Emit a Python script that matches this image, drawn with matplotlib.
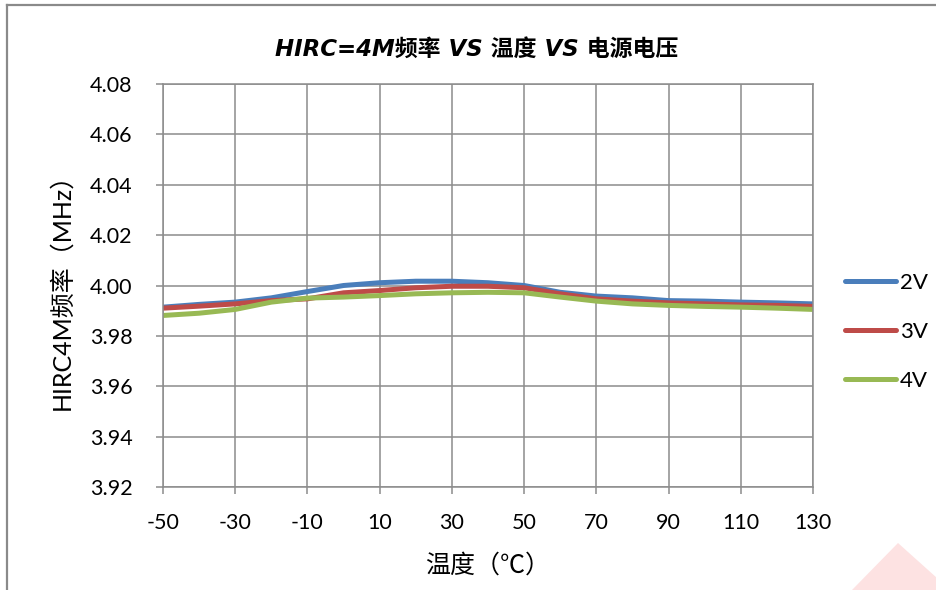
import matplotlib
matplotlib.use("Agg")
import matplotlib.pyplot as plt
from matplotlib.patches import Polygon
from matplotlib.lines import Line2D

plt.rcParams["font.family"] = ["Lato", "Noto Sans CJK SC", "DejaVu Sans"]
plt.rcParams["axes.unicode_minus"] = False

temps = [-50, -40, -30, -20, -10, 0, 10, 20, 30, 40, 50, 60, 70, 80, 90, 100, 110, 120, 130]
freq_2v = [3.9914, 3.9925, 3.9934, 3.9951, 3.9976, 4.0000, 4.0011, 4.0017, 4.0017, 4.0011,
           4.0000, 3.9973, 3.9958, 3.9951, 3.9940, 3.9938, 3.9934, 3.9931, 3.9927]
freq_3v = [3.9910, 3.9918, 3.9927, 3.9940, 3.9947, 3.9971, 3.9980, 3.9991, 3.9997, 3.9997,
           3.9991, 3.9967, 3.9947, 3.9938, 3.9931, 3.9927, 3.9923, 3.9921, 3.9917]
freq_4v = [3.9881, 3.9890, 3.9905, 3.9934, 3.9950, 3.9954, 3.9960, 3.9967, 3.9971, 3.9973,
           3.9971, 3.9954, 3.9938, 3.9927, 3.9921, 3.9917, 3.9914, 3.9910, 3.9905]
series_labels = ["2V", "3V", "4V"]
x_ticks = list(range(-50, 131, 20))
y_ticks = [3.92, 3.94, 3.96, 3.98, 4.00, 4.02, 4.04, 4.06, 4.08]

colors = ["#4a7ebb", "#be4b48", "#98b954"]
grid_color = "#8c8c8c"

fig = plt.figure(figsize=(9.37, 5.9), dpi=100)
ax = fig.add_axes([163 / 937, 1 - 487 / 590, 650 / 937, 403 / 590])

for vals, lab, col in zip([freq_2v, freq_3v, freq_4v], series_labels, colors):
    ax.plot(temps, vals, color=col, lw=3.6, label=lab, solid_capstyle="butt")

ax.set_xlim(-50, 130)
ax.set_ylim(3.92, 4.08)
ax.set_xticks(x_ticks)
ax.set_yticks(y_ticks)
ax.set_yticklabels([f"{v:.2f}" for v in y_ticks])
ax.grid(True, color=grid_color, lw=1.1)
ax.set_axisbelow(True)
for s in ax.spines.values():
    s.set_color(grid_color)
    s.set_linewidth(1.1)
ax.tick_params(axis="both", colors=grid_color, labelcolor="black", labelsize=15.5,
               length=5, width=1.1)
ax.tick_params(axis="x", pad=14)
ax.tick_params(axis="y", pad=17)

ax.set_xlabel("温度（℃）", fontsize=18, labelpad=14)
ax.set_ylabel("HIRC4M频率（MHz）", fontsize=18, labelpad=12)
ax.set_title("HIRC=4M频率 VS 温度 VS 电源电压", fontsize=16.5, fontweight="bold",
             style="italic", family=["DejaVu Sans", "Noto Sans CJK SC"], pad=20, x=0.483)

handles = [Line2D([], [], color=c, lw=3.6, solid_capstyle="round") for c in colors]
fig.legend(handles, series_labels, loc="center left", bbox_to_anchor=(834 / 937, 1 - 332 / 590),
           frameon=False, fontsize=16, handlelength=2.3, handletextpad=0.15,
           labelspacing=1.3, borderpad=0)

# outer chart border
fig.add_artist(Line2D([7 / 937, 7 / 937], [0, 1 - 5 / 590], color="#8a8a8a", lw=1.6))
fig.add_artist(Line2D([7 / 937, 1], [1 - 5 / 590, 1 - 5 / 590], color="#8a8a8a", lw=1.6))

# faint watermark corner
fig.add_artist(Polygon([(852 / 937, 0), (898 / 937, 1 - 543 / 590), (937 / 937, 1 - 578 / 590),
                        (1, 0)], closed=True, facecolor="#fde2e2", edgecolor="none",
                       transform=fig.transFigure))

fig.savefig("out.png", dpi=100)
